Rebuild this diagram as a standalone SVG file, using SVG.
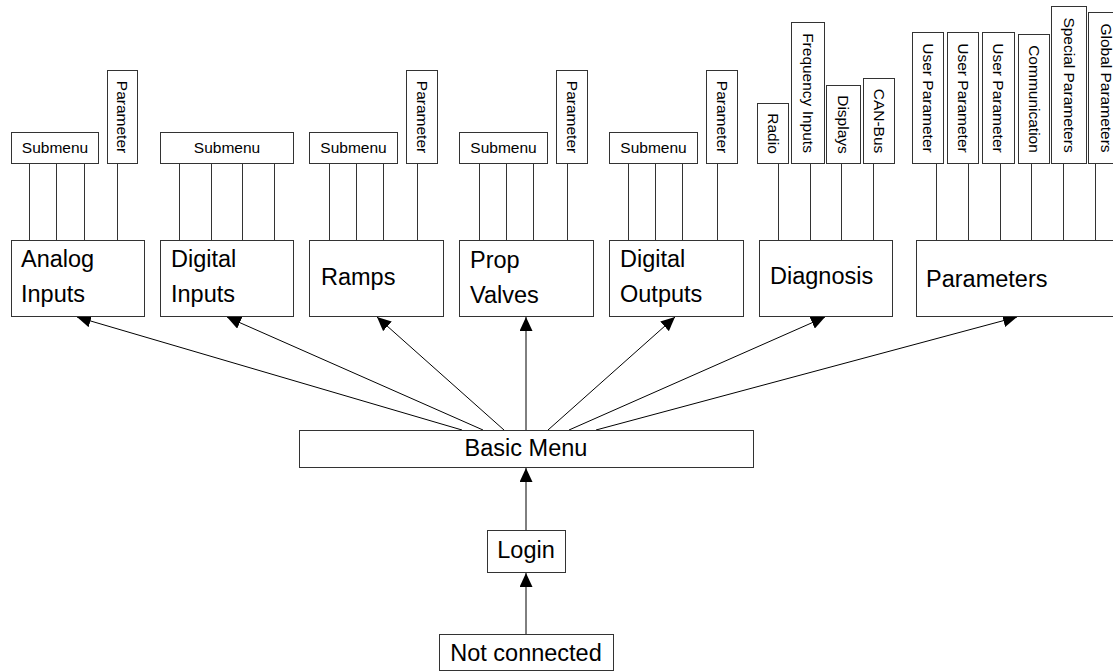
<svg xmlns="http://www.w3.org/2000/svg" width="1113" height="671" viewBox="0 0 1113 671">
<style>
  .box { fill: #fff; stroke: #333; stroke-width: 1; }
  .big { font-family: "Liberation Sans", Arial, sans-serif; font-size: 23.5px; fill: #000; }
  .mid { font-family: "Liberation Sans", Arial, sans-serif; font-size: 23.5px; fill: #000; text-anchor: middle; }
  .small { font-family: "Liberation Sans", Arial, sans-serif; font-size: 15.5px; fill: #000; text-anchor: middle; }
  .vert { font-family: "Liberation Sans", Arial, sans-serif; font-size: 15.5px; fill: #000; text-anchor: middle; dominant-baseline: central; }
  .child { stroke: #333; stroke-width: 1; fill: none; }
  .arrow { stroke: #000; stroke-width: 1; fill: none; marker-end: url(#ah); }
</style>
<defs>
  <marker id="ah" markerUnits="userSpaceOnUse" markerWidth="14" markerHeight="13" refX="14" refY="6.5" orient="auto">
    <path d="M0,0 L14,6.5 L0,13 Z" fill="#000"/>
  </marker>
</defs>
<rect width="1113" height="671" fill="#fff"/>

<g id="connectors">
  <!-- child lines -->
  <g class="child">
    <path d="M29.5,163.5V240.5 M56.5,163.5V240.5 M84.5,163.5V240.5 M117.5,163.5V240.5"/>
    <path d="M179.5,163.5V240.5 M211.5,163.5V240.5 M242.5,163.5V240.5 M274.5,163.5V240.5"/>
    <path d="M329.5,163.5V240.5 M356.5,163.5V240.5 M383.5,163.5V240.5 M417.5,163.5V240.5"/>
    <path d="M479.5,163.5V240.5 M506.5,163.5V240.5 M533.5,163.5V240.5 M567.5,163.5V240.5"/>
    <path d="M628.5,163.5V240.5 M655.5,163.5V240.5 M682.5,163.5V240.5 M717.5,163.5V240.5"/>
    <path d="M778.5,163.5V240.5 M810.5,163.5V240.5 M841.5,163.5V240.5 M873.5,163.5V240.5"/>
    <path d="M936.5,163.5V240.5 M968.5,163.5V240.5 M1000.5,163.5V240.5 M1031.5,163.5V240.5 M1063.5,163.5V240.5 M1095.5,163.5V240.5"/>
  </g>
  <!-- arrows -->
  <line class="arrow" x1="462" y1="430" x2="77" y2="317"/>
  <line class="arrow" x1="483" y1="430" x2="227" y2="317"/>
  <line class="arrow" x1="504" y1="430" x2="377" y2="317"/>
  <line class="arrow" x1="526" y1="430" x2="526" y2="317"/>
  <line class="arrow" x1="548" y1="430" x2="675" y2="317"/>
  <line class="arrow" x1="569" y1="430" x2="825" y2="317"/>
  <line class="arrow" x1="596" y1="430" x2="1017" y2="317"/>
  <line class="arrow" x1="526" y1="530" x2="526" y2="468"/>
  <line class="arrow" x1="526" y1="634" x2="526" y2="573"/>
</g>

<!-- Analog Inputs -->
<g id="analog-inputs">
  <rect class="box" x="11.5" y="240.5" width="133" height="76"/>
  <text class="big" x="21" y="267">Analog</text>
  <text class="big" x="21" y="302">Inputs</text>
</g>
<g id="analog-submenu">
  <rect class="box" x="11.5" y="132.5" width="87" height="31"/>
  <text class="small" x="55" y="153">Submenu</text>
</g>
<g id="analog-parameter">
  <rect class="box" x="107.5" y="70.5" width="30" height="93"/>
  <text class="vert" transform="translate(122.5,117) rotate(90)">Parameter</text>
</g>

<!-- Digital Inputs -->
<g id="digital-inputs">
  <rect class="box" x="160.5" y="240.5" width="133" height="76"/>
  <text class="big" x="171" y="267">Digital</text>
  <text class="big" x="171" y="302">Inputs</text>
</g>
<g id="digital-submenu">
  <rect class="box" x="160.5" y="132.5" width="133" height="31"/>
  <text class="small" x="227" y="153">Submenu</text>
</g>

<!-- Ramps -->
<g id="ramps">
  <rect class="box" x="309.5" y="240.5" width="134" height="76"/>
  <text class="big" x="321" y="285">Ramps</text>
</g>
<g id="ramps-submenu">
  <rect class="box" x="309.5" y="132.5" width="88" height="31"/>
  <text class="small" x="353.5" y="153">Submenu</text>
</g>
<g id="ramps-parameter">
  <rect class="box" x="406.5" y="70.5" width="31" height="93"/>
  <text class="vert" transform="translate(422,117) rotate(90)">Parameter</text>
</g>

<!-- Prop Valves -->
<g id="prop-valves">
  <rect class="box" x="459.5" y="240.5" width="134" height="76"/>
  <text class="big" x="470" y="268">Prop</text>
  <text class="big" x="470" y="303">Valves</text>
</g>
<g id="prop-submenu">
  <rect class="box" x="459.5" y="132.5" width="88" height="31"/>
  <text class="small" x="503.5" y="153">Submenu</text>
</g>
<g id="prop-parameter">
  <rect class="box" x="556.5" y="70.5" width="31" height="93"/>
  <text class="vert" transform="translate(572,117) rotate(90)">Parameter</text>
</g>

<!-- Digital Outputs -->
<g id="digital-outputs">
  <rect class="box" x="609.5" y="240.5" width="134" height="76"/>
  <text class="big" x="620" y="267">Digital</text>
  <text class="big" x="620" y="302">Outputs</text>
</g>
<g id="digout-submenu">
  <rect class="box" x="609.5" y="132.5" width="88" height="31"/>
  <text class="small" x="653.5" y="153">Submenu</text>
</g>
<g id="digout-parameter">
  <rect class="box" x="706.5" y="70.5" width="31" height="93"/>
  <text class="vert" transform="translate(722,117) rotate(90)">Parameter</text>
</g>

<!-- Diagnosis -->
<g id="diagnosis">
  <rect class="box" x="759.5" y="240.5" width="133" height="76"/>
  <text class="big" x="770" y="284">Diagnosis</text>
</g>
<g id="radio">
  <rect class="box" x="757.5" y="103.5" width="31" height="60"/>
  <text class="vert" transform="translate(773,133.5) rotate(90)">Radio</text>
</g>
<g id="frequency-inputs">
  <rect class="box" x="791.5" y="22.5" width="33" height="141"/>
  <text class="vert" transform="translate(808,93) rotate(90)">Frequency Inputs</text>
</g>
<g id="displays">
  <rect class="box" x="826.5" y="85.5" width="34" height="78"/>
  <text class="vert" transform="translate(843.5,124.5) rotate(90)">Displays</text>
</g>
<g id="can-bus">
  <rect class="box" x="863.5" y="78.5" width="31" height="85"/>
  <text class="vert" transform="translate(879,121) rotate(90)">CAN-Bus</text>
</g>

<!-- Parameters -->
<g id="parameters">
  <rect class="box" x="916.5" y="240.5" width="210" height="76"/>
  <text class="big" x="926" y="287">Parameters</text>
</g>
<g id="user-parameter-1">
  <rect class="box" x="912.5" y="32.5" width="31" height="131"/>
  <text class="vert" transform="translate(928,98) rotate(90)">User Parameter</text>
</g>
<g id="user-parameter-2">
  <rect class="box" x="947.5" y="32.5" width="31" height="131"/>
  <text class="vert" transform="translate(963,98) rotate(90)">User Parameter</text>
</g>
<g id="user-parameter-3">
  <rect class="box" x="982.5" y="32.5" width="32" height="131"/>
  <text class="vert" transform="translate(998.5,98) rotate(90)">User Parameter</text>
</g>
<g id="communication">
  <rect class="box" x="1018.5" y="34.5" width="31" height="129"/>
  <text class="vert" transform="translate(1034,99) rotate(90)">Communication</text>
</g>
<g id="special-parameters">
  <rect class="box" x="1051.5" y="6.5" width="35" height="157"/>
  <text class="vert" transform="translate(1069,85) rotate(90)">Special Parameters</text>
</g>
<g id="global-parameters">
  <rect class="box" x="1088.5" y="12.5" width="35" height="151"/>
  <text class="vert" transform="translate(1106,88) rotate(90)">Global Parameters</text>
</g>

<!-- Bottom chain -->
<g id="basic-menu">
  <rect class="box" x="299.5" y="430.5" width="454" height="37"/>
  <text class="mid" x="526" y="456">Basic Menu</text>
</g>
<g id="login">
  <rect class="box" x="487.5" y="530.5" width="78" height="42"/>
  <text class="mid" x="526" y="558">Login</text>
</g>
<g id="not-connected">
  <rect class="box" x="439.5" y="634.5" width="174" height="36"/>
  <text class="mid" x="526" y="661">Not connected</text>
</g>
</svg>
